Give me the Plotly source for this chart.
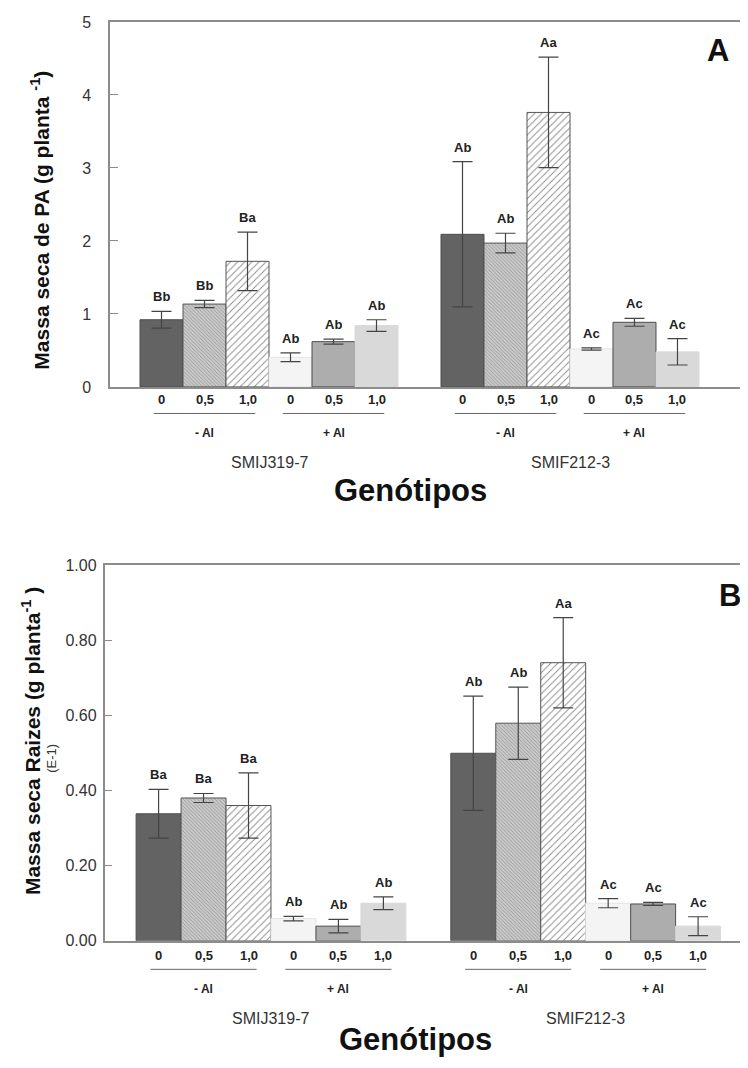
import plotly.graph_objects as go

# ---------------- data ----------------
genotypes = ["SMIJ319-7", "SMIF212-3"]
al_levels = ["- Al", "+ Al"]
doses = ["0", "0,5", "1,0"]

# Panel A: shoot dry mass (g planta-1)
pa_smij = [0.92, 1.135, 1.72, 0.405, 0.62, 0.84]
pa_smij_err = [0.115, 0.05, 0.40, 0.06, 0.035, 0.08]
pa_smif = [2.09, 1.97, 3.76, 0.52, 0.885, 0.48]
pa_smif_err = [0.995, 0.135, 0.757, 0.015, 0.054, 0.18]
pa_letters_smij = ["Bb", "Bb", "Ba", "Ab", "Ab", "Ab"]
pa_letters_smif = ["Ab", "Ab", "Aa", "Ac", "Ac", "Ac"]

# Panel B: root dry mass (g planta-1, E-1)
raiz_smij = [0.338, 0.380, 0.360, 0.059, 0.039, 0.100]
raiz_smij_err = [0.065, 0.012, 0.087, 0.006, 0.018, 0.017]
raiz_smif = [0.499, 0.579, 0.740, 0.100, 0.098, 0.039]
raiz_smif_err = [0.152, 0.096, 0.120, 0.012, 0.004, 0.025]
raiz_letters_smij = ["Ba", "Ba", "Ba", "Ab", "Ab", "Ab"]
raiz_letters_smif = ["Ab", "Ab", "Aa", "Ac", "Ac", "Ac"]

pa_yticks = [0, 1, 2, 3, 4, 5]
raiz_yticks = [0.0, 0.2, 0.4, 0.6, 0.8, 1.0]

# ---------------- layout helpers ----------------
OFF = 8  # default page body margin (page fits the 748x1068 window exactly)
W, H = 748 - OFF, 1068 - 2 * OFF
FONT = "Liberation Sans, Arial, sans-serif"


def px(x):
    return (x - OFF) / W


def py(y):
    return 1 - (y - OFF) / H


GROUP_GAP = 7  # bar slots between genotype groups (one empty slot)
n_treat = len(al_levels) * len(doses)
pos = [[t + g * GROUP_GAP for t in range(n_treat)] for g in range(len(genotypes))]

styles = [
    dict(color="#636363", line="#4d4d4d", pattern=None),
    dict(color="#c6c6c6", line="#555555",
         pattern=dict(shape="\\", bgcolor="#c8c8c8", fgcolor="#959595", size=2.5, solidity=0.3)),
    dict(color="#ffffff", line="#555555",
         pattern=dict(shape="/", bgcolor="#ffffff", fgcolor="#8a8a8a", size=5, solidity=0.18)),
    dict(color="#f4f4f4", line="#e4e4e4", pattern=None),
    dict(color="#adadad", line="#4d4d4d", pattern=None),
    dict(color="#d9d9d9", line="#d9d9d9", pattern=None),
]

fig = go.Figure()

panels = [
    dict(xa="x", ya="y", vals=[pa_smij, pa_smif], errs=[pa_smij_err, pa_smif_err],
         letters=[pa_letters_smij, pa_letters_smif], tick_y=398),
    dict(xa="x2", ya="y2", vals=[raiz_smij, raiz_smif], errs=[raiz_smij_err, raiz_smif_err],
         letters=[raiz_letters_smij, raiz_letters_smif], tick_y=963),
]


def ann(**kw):
    base = dict(showarrow=False, xanchor="center", yanchor="middle")
    base.update(kw)
    return base


annotations = []
for p in panels:
    for t in range(n_treat):
        st = styles[t]
        marker = dict(color=st["color"], line=dict(color=st["line"], width=1))
        if st["pattern"]:
            marker["pattern"] = dict(st["pattern"], fillmode="replace")
        fig.add_trace(go.Bar(
            x=[pos[g][t] for g in range(len(genotypes))],
            y=[p["vals"][g][t] for g in range(len(genotypes))],
            error_y=dict(type="data", array=[p["errs"][g][t] for g in range(len(genotypes))],
                         color="#444444", thickness=1.2, width=10, visible=True),
            width=1,
            marker=marker,
            xaxis=p["xa"], yaxis=p["ya"],
            showlegend=False,
        ))
    for g in range(len(genotypes)):
        for t in range(n_treat):
            annotations.append(ann(
                x=pos[g][t], y=p["vals"][g][t] + p["errs"][g][t],
                xref=p["xa"], yref=p["ya"],
                text="<b>%s</b>" % p["letters"][g][t],
                yanchor="bottom", yshift=5,
                font=dict(family=FONT, size=13, color="#222222"),
            ))
            # dose labels under each bar
            annotations.append(ann(
                x=pos[g][t], y=py(p["tick_y"]), xref=p["xa"], yref="paper",
                text="<b>%s</b>" % doses[t % len(doses)],
                font=dict(family=FONT, size=13, color="#222222"),
            ))

axis_line = "#8c8c8c"
common_x = dict(showgrid=False, zeroline=False, showline=True, linecolor=axis_line, linewidth=1.5,
                ticks="", showticklabels=False, fixedrange=True)

fig.update_layout(
    # panel A: plot area x 110..745, y 14..385 ; bar width 43 px
    xaxis=dict(common_x, domain=[px(110), px(745)], range=[-1.198, 13.57], anchor="y", mirror=True),
    yaxis=dict(domain=[py(385), py(14)], range=[0, 5], tickvals=pa_yticks,
               showgrid=False, zeroline=False, showline=True, linecolor=axis_line, linewidth=1.5,
               mirror=True, ticks="inside", ticklen=8, tickcolor=axis_line, tickwidth=1,
               tickfont=dict(family=FONT, size=16, color="#333333"), ticklabelstandoff=14,
               anchor="x"),
    # panel B: plot area x 104.5..(right edge), y 566..948 ; bar width 44.4 px
    xaxis2=dict(common_x, domain=[px(104.5), 1.0], range=[-1.203, 13.11], anchor="y2", mirror=True),
    yaxis2=dict(domain=[py(948), py(566)], range=[0, 1], tickvals=raiz_yticks, tickformat=".2f",
                showgrid=False, zeroline=False, showline=True, linecolor=axis_line, linewidth=1.5,
                mirror=False, ticks="inside", ticklen=8, tickcolor=axis_line, tickwidth=1,
                tickfont=dict(family=FONT, size=16, color="#333333"), ticklabelstandoff=3,
                anchor="x2"),
    barmode="overlay",
    width=W, height=H,
    margin=dict(l=0, r=0, t=0, b=0),
    paper_bgcolor="white", plot_bgcolor="white",
)

shapes = []
panel_geo = [
    dict(xa="x", line_y=412, al_y=432, gen_y=462, title_y=490, title_x=410),
    dict(xa="x2", line_y=977, al_y=997, gen_y=1027, title_y=1048, title_x=415),
]
for geo in panel_geo:
    for g in range(len(genotypes)):
        for a in range(len(al_levels)):
            center = pos[g][a * len(doses) + 1]
            shapes.append(dict(type="line", xref=geo["xa"], yref="paper",
                               x0=center - 1.18, x1=center + 1.18,
                               y0=py(geo["line_y"]), y1=py(geo["line_y"]),
                               line=dict(color="#666666", width=1)))
            annotations.append(ann(x=center, y=py(geo["al_y"]), xref=geo["xa"], yref="paper",
                                   text="<b>%s</b>" % al_levels[a],
                                   font=dict(family=FONT, size=12, color="#222222")))
        gcenter = (pos[g][0] + pos[g][-1]) / 2
        annotations.append(ann(x=gcenter, y=py(geo["gen_y"]), xref=geo["xa"], yref="paper",
                               text=genotypes[g],
                               font=dict(family=FONT, size=16, color="#333333")))
    annotations.append(ann(x=px(geo["title_x"]), y=py(geo["title_y"]), xref="paper", yref="paper",
                           text="<b>Genótipos</b>",
                           font=dict(family=FONT, size=31, color="#111111")))

# y axis titles
annotations.append(ann(x=px(40), y=py(216), xref="paper", yref="paper", textangle=-90,
                       text="<b>Massa seca de PA (g planta <sup>-1</sup>)</b>",
                       font=dict(family=FONT, size=21, color="#111111")))
annotations.append(ann(x=px(31), y=py(745), xref="paper", yref="paper", textangle=-90,
                       text="<b>Massa seca Raizes (g planta<sup>-1</sup> )</b>",
                       font=dict(family=FONT, size=21, color="#111111")))
annotations.append(ann(x=px(52), y=py(763), xref="paper", yref="paper", textangle=-90,
                       text="(E-1)",
                       font=dict(family=FONT, size=13, color="#333333")))

# panel letters
annotations.append(ann(x=px(718), y=py(43), xref="paper", yref="paper", text="<b>A</b>",
                       font=dict(family=FONT, size=31, color="#111111")))
annotations.append(ann(x=px(730), y=py(597), xref="paper", yref="paper", text="<b>B</b>",
                       font=dict(family=FONT, size=31, color="#111111")))

fig.update_layout(annotations=annotations, shapes=shapes)
fig.write_html("out.html")
